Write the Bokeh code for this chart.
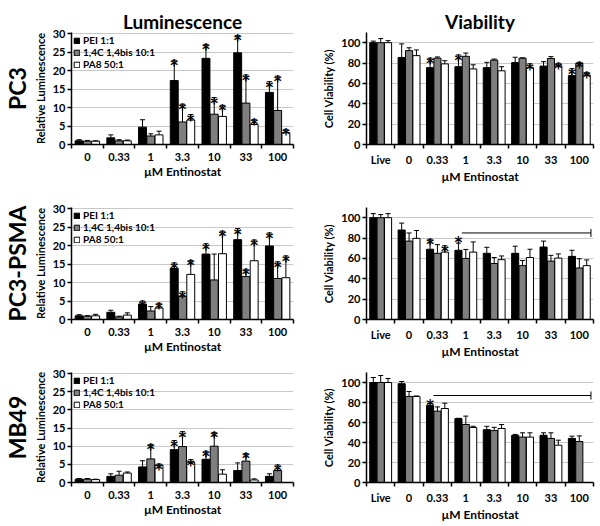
import math
from bokeh.plotting import figure
from bokeh.models import (ColumnDataSource, Whisker, TeeHead, FixedTicker, Title,
                          Legend, LegendItem)
from bokeh.transform import dodge
from bokeh.layouts import column, row
from bokeh.embed import file_html
from bokeh.resources import INLINE
from bokeh.core.properties import value

FONT = "Lato"
STAR_FONT = "DejaVu Sans"
NaN = float("nan")

# ---------------- data ----------------
lum_cats = ["0", "0.33", "1", "3.3", "10", "33", "100"]
via_cats = ["Live", "0", "0.33", "1", "3.3", "10", "33", "100"]
series_names = ["PEI 1:1", "1,4C 1,4bis 10:1", "PA8 50:1"]
series_colors = ["#000000", "#7f7f7f", "#ffffff"]
row_labels = ["PC3", "PC3-PSMA", "MB49"]
lum_yticks = [0, 5, 10, 15, 20, 25, 30]
via_yticks = [0, 20, 40, 60, 80, 100]

# PC3 luminescence
pc3_lum_pei = [1.0, 1.8, 4.7, 17.3, 23.3, 24.8, 14.1]
pc3_lum_pei_sd = [0.3, 0.8, 2.0, 5.5, 3.8, 4.7, 2.9]
pc3_lum_c14 = [0.9, 1.0, 2.3, 6.1, 8.2, 11.2, 9.2]
pc3_lum_c14_sd = [0.2, 0.3, 0.6, 4.8, 4.5, 7.6, 9.3]
pc3_lum_pa8 = [0.9, 1.0, 2.6, 6.6, 7.6, 5.4, 3.2]
pc3_lum_pa8_sd = [0.1, 0.2, 1.0, 1.5, 3.0, 1.4, 0.9]
pc3_lum_sig = [[0, 0, 0, 1, 1, 1, 1], [0, 0, 0, 1, 1, 1, 1], [0, 0, 0, 1, 1, 1, 1]]

# PC3 viability
pc3_via_pei = [100, 85.5, 75.5, 76.4, 75.5, 80.4, 77.0, 67.7]
pc3_via_pei_sd = [1.5, 13.3, 9.3, 11.5, 5.2, 5.3, 4.4, 6.8]
pc3_via_c14 = [100, 92.2, 84.8, 86.6, 82.9, 84.8, 84.5, 79.8]
pc3_via_c14_sd = [4.0, 2.8, 1.2, 3.2, 1.0, 0.3, 1.8, 0.9]
pc3_via_pa8 = [100, 87.3, 79.2, 74.2, 72.4, 75.5, 77.3, 68.3]
pc3_via_pa8_sd = [2.0, 5.6, 3.1, 4.1, 4.0, 3.7, 2.5, 2.5]
pc3_via_sig = [[0, 0, 1, 1, 0, 0, 0, 1], [0, 0, 0, 0, 0, 0, 0, 1], [0, 0, 0, 0, 0, 1, 1, 1]]

# PC3-PSMA luminescence
psma_lum_pei = [1.0, 1.95, 4.2, 13.8, 17.7, 21.6, 19.9]
psma_lum_pei_sd = [0.3, 0.55, 0.8, 1.5, 2.8, 3.0, 3.5]
psma_lum_c14 = [0.9, 0.7, 2.3, 6.3, 10.7, 11.6, 11.1]
psma_lum_c14_sd = [0.15, 0.2, 1.2, 1.2, 7.0, 2.0, 4.5]
psma_lum_pa8 = [1.0, 1.2, 3.1, 12.2, 17.8, 15.9, 11.3]
psma_lum_pa8_sd = [0.4, 0.6, 1.3, 3.8, 6.1, 5.6, 5.9]
psma_lum_sig = [[0, 0, 1, 1, 1, 1, 1], [0, 0, 0, 1, 0, 1, 1], [0, 0, 1, 1, 1, 1, 1]]

# PC3-PSMA viability
psma_via_pei = [100, 87.9, 69.0, 68.0, 65.0, 65.0, 71.2, 62.0]
psma_via_pei_sd = [4.0, 6.8, 9.8, 7.0, 5.9, 7.0, 5.8, 6.0]
psma_via_c14 = [100, 77.0, 65.0, 60.0, 55.0, 52.9, 57.4, 50.6]
psma_via_c14_sd = [3.0, 8.0, 8.5, 8.8, 5.9, 5.1, 5.6, 9.1]
psma_via_pa8 = [100, 79.7, 66.2, 66.2, 58.8, 60.9, 60.3, 52.9]
psma_via_pa8_sd = [4.0, 7.7, 6.2, 10.0, 3.6, 8.1, 4.1, 5.6]
psma_via_sig = [[0, 0, 1, 0, 0, 0, 0, 0], [0, 0, 0, 0, 0, 0, 0, 0], [0, 0, 1, 0, 0, 0, 0, 0]]
psma_bracket = ("1", "100", 85)

# MB49 luminescence
mb49_lum_pei = [0.9, 1.7, 4.3, 9.05, 6.4, 3.3, 1.7]
mb49_lum_pei_sd = [0.2, 0.7, 1.7, 2.5, 2.2, 2.1, 0.7]
mb49_lum_c14 = [0.9, 2.0, 6.5, 9.9, 10.0, 5.9, 3.3]
mb49_lum_c14_sd = [0.2, 1.1, 4.0, 4.1, 3.8, 2.1, 1.5]
mb49_lum_pa8 = [0.8, 2.6, 4.8, 5.6, 2.3, 0.7, NaN]
mb49_lum_pa8_sd = [0.1, 0.3, 0.3, 0.7, 1.2, 0.3, NaN]
mb49_lum_sig = [[0, 0, 0, 1, 1, 0, 0], [0, 0, 1, 1, 1, 1, 1], [0, 0, 1, 1, 0, 0, 0]]

# MB49 viability
mb49_via_pei = [100, 98.8, 76.9, 63.9, 52.8, 47.2, 47.2, 44.1]
mb49_via_pei_sd = [5.0, 2.2, 2.1, 0.3, 3.4, 0.9, 2.5, 2.2]
mb49_via_c14 = [100, 86.1, 71.3, 58.0, 51.9, 45.4, 44.1, 41.0]
mb49_via_c14_sd = [7.0, 4.9, 4.3, 8.4, 3.3, 4.3, 5.6, 5.6]
mb49_via_pa8 = [100, 86.1, 74.0, 55.0, 54.0, 45.4, 37.3, NaN]
mb49_via_pa8_sd = [4.0, 0.4, 5.3, 1.2, 4.0, 4.3, 5.0, NaN]
mb49_via_sig = [[0] * 8, [0] * 8, [0] * 8]
mb49_bracket = ("0.33", "100", 87)

# ---------------- styling ----------------
OFFSETS = [-0.26, 0.0, 0.26]
BAR_W = 0.25
STAR_SIZE = "15px"


def make_panel(cats, vals, sds, sigs, ymax, yticks, ylabel, w, h,
               top, bottom, left, right, row_label=None, title=None,
               title_standoff=0, legend=False, bracket=None):
    n = len(cats)
    p = figure(width=w, height=h, x_range=(-0.5, n - 0.5),
               y_range=(0, ymax), output_backend="svg", toolbar_location=None,
               min_border_top=top, min_border_bottom=bottom,
               min_border_left=left, min_border_right=right)
    p.outline_line_color = None
    p.background_fill_color = "white"
    p.border_fill_color = "white"

    items = []
    for k in range(3):
        xs = [i for i in range(n) if not math.isnan(vals[k][i])]
        src = ColumnDataSource(dict(
            x=xs,
            top=[vals[k][i] for i in xs],
            upper=[vals[k][i] + sds[k][i] for i in xs]))
        r = p.vbar(x=dodge("x", OFFSETS[k]), top="top", width=BAR_W,
                   source=src, fill_color=series_colors[k],
                   line_color="black", line_width=1)
        p.add_layout(Whisker(source=src, base=dodge("x", OFFSETS[k]),
                             lower="top", upper="upper", dimension="height",
                             line_color="black", line_width=1, level="overlay",
                             upper_head=TeeHead(size=5, line_color="black",
                                                line_width=1),
                             lower_head=None))
        sx = [i for i in xs if sigs[k][i]]
        ssrc = ColumnDataSource(dict(
            x=sx, y=[vals[k][i] + sds[k][i] for i in sx], t=["*"] * len(sx)))
        p.text(x=dodge("x", OFFSETS[k]), y="y", text="t", source=ssrc,
               text_align="center", text_baseline="alphabetic",
               text_font=value(STAR_FONT), text_font_size=STAR_SIZE,
               text_font_style="bold", text_color="#000000", y_offset=6)
        items.append(LegendItem(label=series_names[k], renderers=[r]))

    if bracket is not None:
        c0, c1, yb = bracket
        i0 = cats.index(c0) + OFFSETS[0]
        i1 = cats.index(c1) + 0.41
        bsrc = ColumnDataSource(dict(y=[yb], lo=[i0 + 0.12], hi=[i1],
                                     sx=[i0], t=["*"]))
        p.add_layout(Whisker(source=bsrc, base="y", lower="lo", upper="hi",
                             dimension="width", line_color="black",
                             line_width=1, level="overlay",
                             upper_head=TeeHead(size=8, line_color="black",
                                                line_width=1),
                             lower_head=None))
        p.text(x="sx", y="y", text="t", source=bsrc, text_align="center",
               text_baseline="alphabetic", text_font=value(STAR_FONT),
               text_font_size=STAR_SIZE, text_font_style="bold",
               text_color="#000000", y_offset=10)

    if legend:
        lg = Legend(items=items, location="top_left", margin=2, padding=2,
                    spacing=-2, label_standoff=3, glyph_width=7,
                    glyph_height=7, label_height=8,
                    label_text_font=FONT, label_text_font_size="10px",
                    label_text_font_style="bold", label_text_color="black",
                    background_fill_alpha=0, border_line_color=None)
        p.add_layout(lg)

    # axes
    p.xaxis.ticker = FixedTicker(ticks=list(range(n)),
                                 minor_ticks=[i - 0.5 for i in range(n + 1)])
    p.xaxis.major_label_overrides = {i: c for i, c in enumerate(cats)}
    p.xaxis.major_tick_line_color = None
    p.xaxis.major_tick_out = 0
    p.xaxis.major_tick_in = 0
    p.xaxis.minor_tick_line_color = "black"
    p.xaxis.minor_tick_out = 4
    p.xaxis.minor_tick_in = 0
    p.xaxis.major_label_standoff = 4
    p.xaxis.axis_label = "\u00b5M Entinostat"
    p.xaxis.axis_label_text_font_size = "12px"
    p.xaxis.axis_label_standoff = 0
    p.yaxis.ticker = FixedTicker(ticks=yticks)
    p.yaxis.minor_tick_line_color = None
    p.yaxis.major_tick_out = 4
    p.yaxis.major_tick_in = 0
    p.yaxis.major_label_standoff = 2
    p.yaxis.axis_label = ylabel
    p.yaxis.axis_label_text_font_size = "11px"
    p.yaxis.axis_label_standoff = 3
    for ax in (p.xaxis, p.yaxis):
        ax.axis_line_color = "black"
        ax.axis_line_width = 1.5
        ax.major_tick_line_width = 1.5
        ax.minor_tick_line_width = 1.5
        ax.major_label_text_font = FONT
        ax.major_label_text_font_size = "11px"
        ax.major_label_text_font_style = "bold"
        ax.major_label_text_color = "black"
        ax.axis_label_text_font = FONT
        ax.axis_label_text_font_style = "bold"
        ax.axis_label_text_color = "black"
    p.xgrid.visible = False
    p.ygrid.ticker = FixedTicker(ticks=yticks)
    p.ygrid.grid_line_color = "#c8c8c8"

    if title is not None:
        p.title.text = title
        p.title.align = "center"
        p.title.text_font = FONT
        p.title.text_font_size = "19px"
        p.title.text_font_style = "bold"
        p.title.text_color = "black"
        p.title.standoff = title_standoff
        p.title.offset = 0
    if row_label is not None:
        p.add_layout(Title(text=row_label, align="center", text_font=FONT,
                           text_font_size="23px", text_font_style="bold",
                           text_color="black", standoff=0), "left")
    return p


LUM = "Relative Luminescence"
VIA = "Cell Viability (%)"

l1 = make_panel(lum_cats, [pc3_lum_pei, pc3_lum_c14, pc3_lum_pa8],
                [pc3_lum_pei_sd, pc3_lum_c14_sd, pc3_lum_pa8_sd], pc3_lum_sig,
                30.3, lum_yticks, LUM, 300, 186, 32, 41, 67, 7,
                row_label=row_labels[0], title="Luminescence",
                title_standoff=0, legend=True)
v1 = make_panel(via_cats, [pc3_via_pei, pc3_via_c14, pc3_via_pa8],
                [pc3_via_pei_sd, pc3_via_c14_sd, pc3_via_pa8_sd], pc3_via_sig,
                110, via_yticks, VIA, 299, 186, 27, 41, 66, 6,
                title="Viability", title_standoff=0)
l2 = make_panel(lum_cats, [psma_lum_pei, psma_lum_c14, psma_lum_pa8],
                [psma_lum_pei_sd, psma_lum_c14_sd, psma_lum_pa8_sd],
                psma_lum_sig, 30.3, lum_yticks, LUM, 300, 175, 21, 41, 67, 7,
                row_label=row_labels[1], legend=True)
v2 = make_panel(via_cats, [psma_via_pei, psma_via_c14, psma_via_pa8],
                [psma_via_pei_sd, psma_via_c14_sd, psma_via_pa8_sd],
                psma_via_sig, 110, via_yticks, VIA, 299, 175, 9, 41, 66, 6,
                bracket=psma_bracket)
l3 = make_panel(lum_cats, [mb49_lum_pei, mb49_lum_c14, mb49_lum_pa8],
                [mb49_lum_pei_sd, mb49_lum_c14_sd, mb49_lum_pa8_sd],
                mb49_lum_sig, 30.3, lum_yticks, LUM, 300, 163, 11, 39, 67, 7,
                row_label=row_labels[2], legend=True)
v3 = make_panel(via_cats, [mb49_via_pei, mb49_via_c14, mb49_via_pa8],
                [mb49_via_pei_sd, mb49_via_c14_sd, mb49_via_pa8_sd],
                mb49_via_sig, 110, via_yticks, VIA, 299, 163, 6, 39, 66, 6,
                bracket=mb49_bracket)

layout = column(row(l1, v1), row(l2, v2), row(l3, v3))
open("out.html", "w").write(file_html(layout, INLINE))
